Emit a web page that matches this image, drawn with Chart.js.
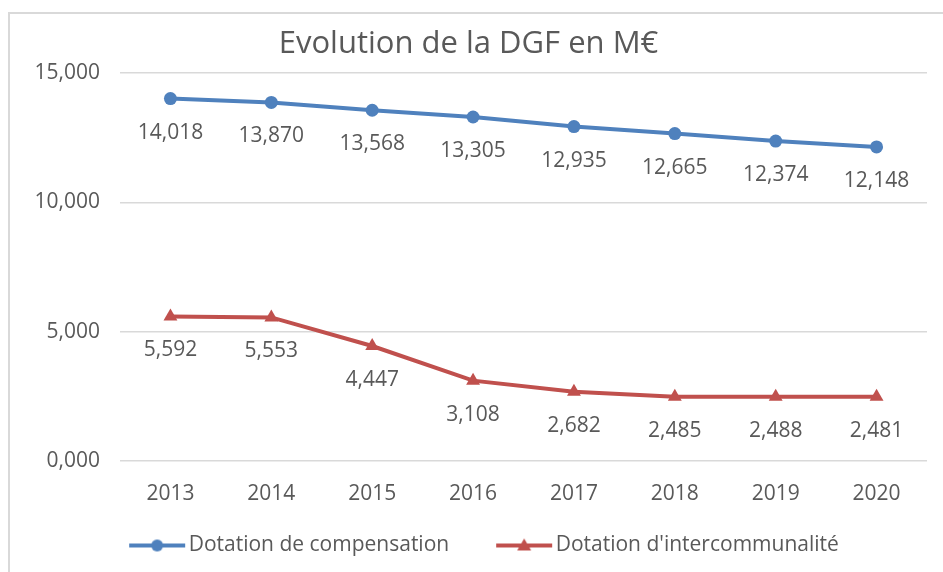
<!DOCTYPE html>
<html lang="fr">
<head>
    <meta charset="UTF-8">
    <title>Evolution de la DGF en M€</title>
    <script src="https://cdn.jsdelivr.net/npm/chart.js@4.4.0/dist/chart.umd.min.js"></script>
    <style>
        body { margin: 0; background: #fff; }
        #wrap { position: relative; width: 943px; height: 572px; }
        #frame {
            position: absolute; left: 8px; top: 12px; width: 960px; height: 600px;
            border: 2px solid #d9d9d9; pointer-events: none;
        }
    </style>
</head>
<body>
<div id="wrap">
    <canvas id="myChart" width="943" height="572"></canvas>
    <div id="frame"></div>
</div>
<script>
    // données
    const annees = ['2013', '2014', '2015', '2016', '2017', '2018', '2019', '2020'];
    const compensation = [14.018, 13.870, 13.568, 13.305, 12.935, 12.665, 12.374, 12.148];
    const intercommunalite = [5.592, 5.553, 4.447, 3.108, 2.682, 2.485, 2.488, 2.481];
    const yTicks = [0, 5, 10, 15];

    const bleu = '#4f81bd';
    const rouge = '#c0504d';
    const gris = '#595959';
    const police = "'Open Sans', sans-serif";

    // format 14,018
    const fmt = v => v.toFixed(3).replace('.', ',');

    // petit dessin ligne + marqueur pour la légende
    // (vide à gauche pour espacer les deux entrées)
    function legendIcon(color, shape) {
        const c = document.createElement('canvas');
        c.width = 96; c.height = 16;
        const g = c.getContext('2d');
        g.strokeStyle = color; g.fillStyle = color; g.lineWidth = 4;
        g.beginPath(); g.moveTo(39, 8); g.lineTo(95, 8); g.stroke();
        g.beginPath();
        if (shape === 'circle') {
            g.arc(67, 8, 6, 0, Math.PI * 2);
        } else {
            g.moveTo(67, 1); g.lineTo(74, 13); g.lineTo(60, 13); g.closePath();
        }
        g.fill();
        return c;
    }
    const icons = [legendIcon(bleu, 'circle'), legendIcon(rouge, 'triangle')];

    // étiquettes sous les points
    const labelsPlugin = {
        id: 'valeurs',
        afterDatasetsDraw(chart) {
            const ctx = chart.ctx;
            ctx.save();
            ctx.font = '21px ' + police;
            ctx.fillStyle = gris;
            ctx.textAlign = 'center';
            ctx.textBaseline = 'middle';
            chart.data.datasets.forEach((ds, i) => {
                chart.getDatasetMeta(i).data.forEach((pt, j) => {
                    ctx.fillText(fmt(ds.data[j]), pt.x, pt.y + 34);
                });
            });
            ctx.restore();
        }
    };

    const ctx = document.getElementById('myChart').getContext('2d');
    const myChart = new Chart(ctx, {
        type: 'line',
        data: {
            labels: annees,
            datasets: [{
                label: 'Dotation de compensation',
                data: compensation,
                borderColor: bleu,
                backgroundColor: bleu,
                borderWidth: 4,
                pointStyle: 'circle',
                pointRadius: 6.5,
                pointBorderWidth: 0
            }, {
                label: "Dotation d'intercommunalité",
                data: intercommunalite,
                borderColor: rouge,
                backgroundColor: rouge,
                borderWidth: 4,
                pointStyle: 'triangle',
                pointRadius: 8,
                pointBorderWidth: 0
            }]
        },
        options: {
            responsive: false,
            animation: false,
            layout: { padding: { left: 10, right: 16, top: 0, bottom: 6 } },
            plugins: {
                title: {
                    display: true,
                    text: 'Evolution de la DGF en M€',
                    color: gris,
                    font: { family: police, size: 31, weight: 'normal' },
                    padding: { top: 26, bottom: 10 }
                },
                legend: {
                    position: 'bottom',
                    labels: {
                        color: gris,
                        font: { family: police, size: 21 },
                        usePointStyle: true,
                        pointStyleWidth: 80,
                        padding: 16,
                        generateLabels(chart) {
                            return chart.data.datasets.map((ds, i) => ({
                                text: ds.label,
                                pointStyle: icons[i],
                                fillStyle: ds.borderColor,
                                strokeStyle: ds.borderColor,
                                lineWidth: 0,
                                fontColor: gris,
                                datasetIndex: i
                            }));
                        }
                    }
                },
                tooltip: { enabled: false }
            },
            scales: {
                x: {
                    offset: true,
                    afterFit: s => { s.height = 58; },
                    grid: { display: false },
                    border: { display: false },
                    ticks: { color: gris, font: { family: police, size: 21 }, padding: 12 }
                },
                y: {
                    min: 0,
                    max: 15,
                    afterBuildTicks: s => { s.ticks = yTicks.map(v => ({ value: v })); },
                    afterFit: s => { s.width = 110; },
                    grid: { color: '#d9d9d9', lineWidth: 1.5, drawTicks: false },
                    border: { display: false },
                    ticks: {
                        color: gris,
                        font: { family: police, size: 21 },
                        padding: 20,
                        callback: v => fmt(v)
                    }
                }
            }
        },
        plugins: [labelsPlugin]
    });
</script>
</body>
</html>
